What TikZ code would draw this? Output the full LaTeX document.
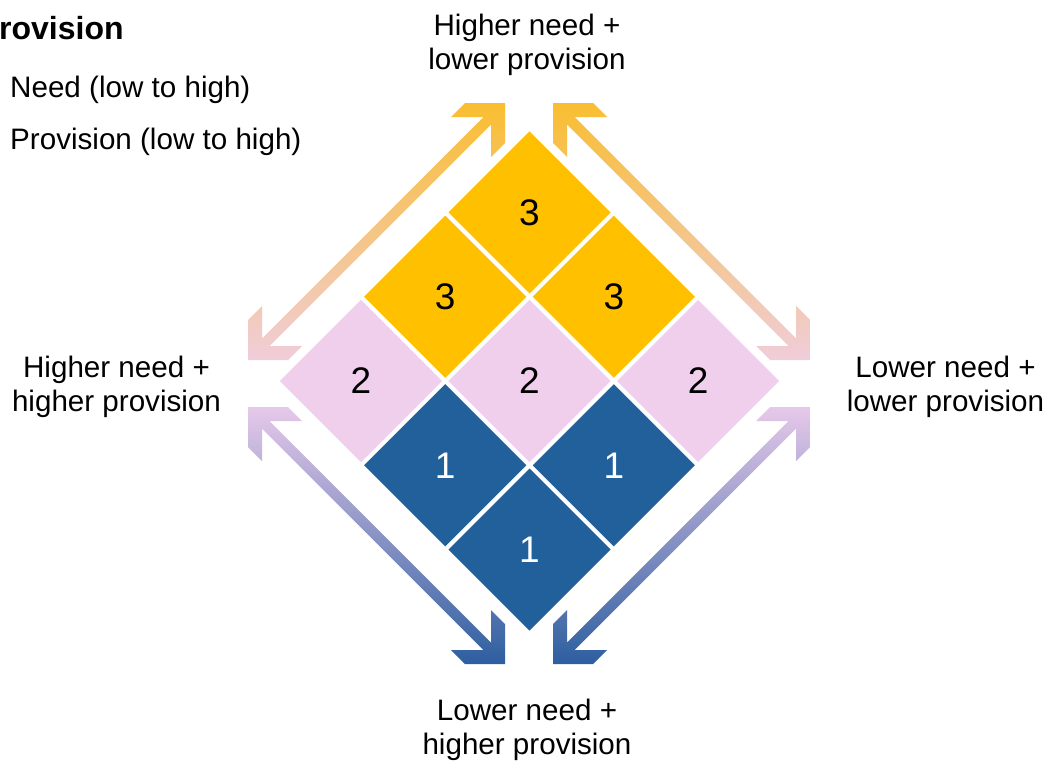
\documentclass[tikz,border=0pt]{standalone}
\usepackage{fontspec}
\setmainfont{Liberation Sans}
\usetikzlibrary{shapes.geometric}

\definecolor{cellgold}{HTML}{FFC000}
\definecolor{cellpink}{HTML}{EFCFEC}
\definecolor{cellblue}{HTML}{22609B}
\definecolor{arrgold}{HTML}{F9BE30}
\definecolor{arrpink}{HTML}{F0CDDA}
\definecolor{arrlilac}{HTML}{E6C9EA}
\definecolor{arrmid}{HTML}{B2AAD6}
\definecolor{arrblue}{HTML}{2D5E9F}

% arrow head geometry (in px): outer arm length, arm thickness, shaft half width * sqrt 2
\def\armlen{40}
\def\headt{14}
\def\halfq{7.5}

% corner points of one chevron head; tip #1,#2, pointing towards signs #3,#4
\newcommand\headpoints[5]{%
  \coordinate (#5-t)  at ({#1},{#2});
  \coordinate (#5-o1) at ({#1-(#3)*\armlen},{#2});
  \coordinate (#5-i1) at ({#1-(#3)*(\armlen+\headt)},{#2-(#4)*\headt});
  \coordinate (#5-q1) at ({#1-(#3)*(\headt+\halfq)},{#2-(#4)*\headt});
  \coordinate (#5-q2) at ({#1-(#3)*\headt},{#2-(#4)*(\headt+\halfq)});
  \coordinate (#5-i2) at ({#1-(#3)*\headt},{#2-(#4)*(\armlen+\headt)});
  \coordinate (#5-o2) at ({#1},{#2-(#4)*\armlen});
}

% diagonal double-headed arrow with a vertical colour gradient
% #1 name, #2,#3 first tip, #4,#5 second tip, #6 shading options
\newcommand\twowayarrow[6]{%
  \pgfmathsetmacro\sxa{sign(#2-#4)}%
  \pgfmathsetmacro\sya{sign(#3-#5)}%
  \pgfmathsetmacro\sxb{-\sxa}%
  \pgfmathsetmacro\syb{-\sya}%
  \headpoints{#2}{#3}{\sxa}{\sya}{#1a}
  \headpoints{#4}{#5}{\sxb}{\syb}{#1b}
  \shade[#6] (#1a-t) -- (#1a-o1) -- (#1a-i1) -- (#1a-q1) -- (#1b-q2) -- (#1b-i2)
    -- (#1b-o2) -- (#1b-t) -- (#1b-o1) -- (#1b-i1) -- (#1b-q1) -- (#1a-q2)
    -- (#1a-i2) -- (#1a-o2) -- cycle;
}

\tikzset{
  cell/.style={diamond, aspect=1, inner sep=0pt, outer sep=0pt,
    minimum width=162.2pt, minimum height=162.2pt,
    font=\fontsize{37}{40}\selectfont},
  goldcell/.style={cell, fill=cellgold, text=black},
  pinkcell/.style={cell, fill=cellpink, text=black},
  bluecell/.style={cell, fill=cellblue, text=white},
  corner/.style={align=center, inner sep=0pt, anchor=base,
    font=\fontsize{29.6}{34}\selectfont},
  legend/.style={inner sep=0pt, anchor=base west,
    font=\fontsize{29.6}{34}\selectfont},
  upper/.style={top color=arrgold, bottom color=arrpink},
  lower/.style={top color=arrlilac, middle color=arrmid, bottom color=arrblue},
}

\begin{document}
\begin{tikzpicture}[x=1pt, y=-1pt]
  \useasboundingbox (0,0) rectangle (1054,760);
  \fill[white] (0,0) rectangle (1054,760);

  % legend
  \node[legend, font=\fontsize{32}{34}\selectfont\bfseries] (title) at (-1,40) {rovision};
  \node[legend] (need) at (10,97) {Need (low to high)};
  \node[legend] (prov) at (10,149) {Provision (low to high)};

  % grid of nine cells
  \node[goldcell] (c00) at (529.5,212.4) {3};
  \node[goldcell] (c10) at (445.2,296.7) {3};
  \node[goldcell] (c01) at (613.8,296.7) {3};
  \node[pinkcell] (c20) at (360.9,381) {2};
  \node[pinkcell] (c11) at (529.5,381) {2};
  \node[pinkcell] (c02) at (698.1,381) {2};
  \node[bluecell] (c21) at (445.2,465.3) {1};
  \node[bluecell] (c12) at (613.8,465.3) {1};
  \node[bluecell] (c22) at (529.5,549.6) {1};

  % double-headed arrows along the four sides
  \twowayarrow{nw}{505}{103}{248}{360}{upper}
  \twowayarrow{ne}{553}{103}{810}{360}{upper}
  \twowayarrow{sw}{505}{664}{248}{407}{lower}
  \twowayarrow{se}{553}{664}{810}{407}{lower}

  % corner labels (anchored at the baseline of their second line)
  \node[corner] (top) at (527,70) {Higher need +\\lower provision};
  \node[corner] (left) at (116.5,411) {Higher need +\\higher provision};
  \node[corner] (right) at (945.5,411) {Lower need +\\lower provision};
  \node[corner] (bottom) at (527,754) {Lower need +\\higher provision};
\end{tikzpicture}
\end{document}
